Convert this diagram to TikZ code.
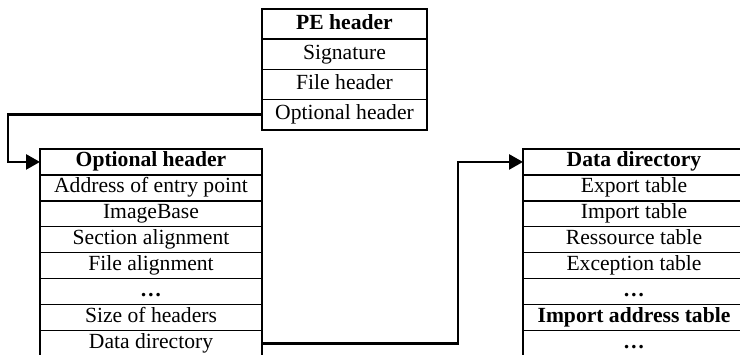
\documentclass[tikz,border=0pt]{standalone}
\usepackage{fontspec}
\setmainfont{Liberation Serif}
\usetikzlibrary{positioning,arrows.meta}

\begin{document}
\begin{tikzpicture}[x=1pt,y=-1pt,>={Triangle[length=14pt,width=15pt]},
  row/.style={draw, rectangle, line width=1.5pt, outer sep=0pt, inner sep=0pt,
    text height=14.5pt, text depth=4.5pt,
    minimum width=222pt, minimum height=25.9pt, font=\fontsize{21.6}{24}\selectfont},
  perow/.style={row, minimum width=165pt, minimum height=30.2pt},
  link/.style={->, line width=2.6pt}]
  \useasboundingbox (0,0) rectangle (740,355);
  % PE header
  \node[perow, anchor=north] (pe) at (344.5,9) {\textbf{PE header}};
  \node[perow, below=0pt of pe] (pesig) {Signature};
  \node[perow, below=0pt of pesig] (pefile) {File header};
  \node[perow, below=0pt of pefile] (peopt) {Optional header};
  % Optional header
  \node[row, anchor=north west] (opt) at (40,149) {\textbf{Optional header}};
  \node[row, below=0pt of opt] (optentry) {Address of entry point};
  \node[row, below=0pt of optentry] (optbase) {ImageBase};
  \node[row, below=0pt of optbase] (optsect) {Section alignment};
  \node[row, below=0pt of optsect] (optfile) {File alignment};
  \node[row, below=0pt of optfile] (optdots) {\textbf{\dots}};
  \node[row, below=0pt of optdots] (optsize) {Size of headers};
  \node[row, below=0pt of optsize] (optdata) {Data directory};
  % Data directory
  \node[row, anchor=north west] (dd) at (523,149) {\textbf{Data directory}};
  \node[row, below=0pt of dd] (ddexp) {Export table};
  \node[row, below=0pt of ddexp] (ddimp) {Import table};
  \node[row, below=0pt of ddimp] (ddres) {Ressource table};
  \node[row, below=0pt of ddres] (ddexc) {Exception table};
  \node[row, below=0pt of ddexc] (dddots) {\textbf{\dots}};
  \node[row, below=0pt of dddots] (ddiat) {\textbf{Import address table}};
  \node[row, below=0pt of ddiat] (ddmore) {\textbf{\dots}};
  % Connections
  \draw[link] (peopt.west) -- ++(-254,0) |- (opt.west);
  \draw[link] (optdata.east) -- ++(196,0) |- (dd.west);
\end{tikzpicture}
\end{document}
